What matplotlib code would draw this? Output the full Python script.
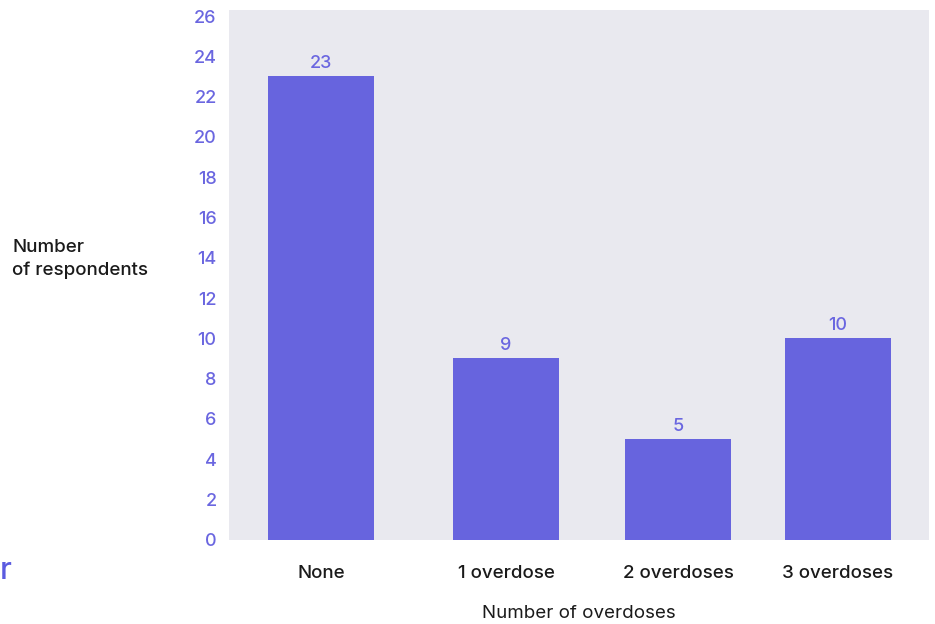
"""
Number of respondents by number of overdoses experienced.
"""

import matplotlib.pyplot as plt

# Data
categories = ["None", "1 overdose", "2 overdoses", "3 overdoses"]
respondents = [23, 9, 5, 10]
y_ticks = list(range(0, 27, 2))

# Bar centres (slightly uneven spacing in the original)
x_pos = [0, 1.074, 2.073, 3.0]

bar_color = "#6764DE"
tick_color = "#6A66E0"
bg_color = "#E9E9EF"
text_color = "#1a1a1a"

plt.rcParams["font.family"] = ["Inter", "DejaVu Sans"]
plt.rcParams["font.weight"] = 500

fig = plt.figure(figsize=(9.35, 6.24), dpi=100)
ax = fig.add_axes([0.245, 0.135, 0.7486, 0.849])
ax.set_facecolor(bg_color)

ax.bar(x_pos, respondents, width=0.615, color=bar_color, zorder=2)
for x, v in zip(x_pos, respondents):
    ax.text(x, v + 0.2, str(v), ha="center", va="bottom",
            color=tick_color, fontsize=13)

ax.set_xlim(-0.534, 3.529)
ax.set_ylim(0, 26.3)
ax.set_yticks(y_ticks)
ax.set_xticks(x_pos)
ax.set_xticklabels(categories)

ax.tick_params(axis="y", length=0, pad=9, labelsize=13, labelcolor=tick_color)
ax.tick_params(axis="x", length=0, pad=18, labelsize=13.5, labelcolor=text_color)
for spine in ax.spines.values():
    spine.set_visible(False)

ax.set_xlabel("Number of overdoses", fontsize=13.5, color=text_color, labelpad=17)
fig.text(0.013, 0.585, "Number\nof respondents", ha="left", va="center",
         fontsize=13.5, color=text_color, linespacing=1.35)

# stray cropped letter at bottom left of the original
fig.text(0.0, 0.085, "r", ha="left", va="center", fontsize=22, color="#5B5BE0")

fig.savefig("out.png", dpi=100)
